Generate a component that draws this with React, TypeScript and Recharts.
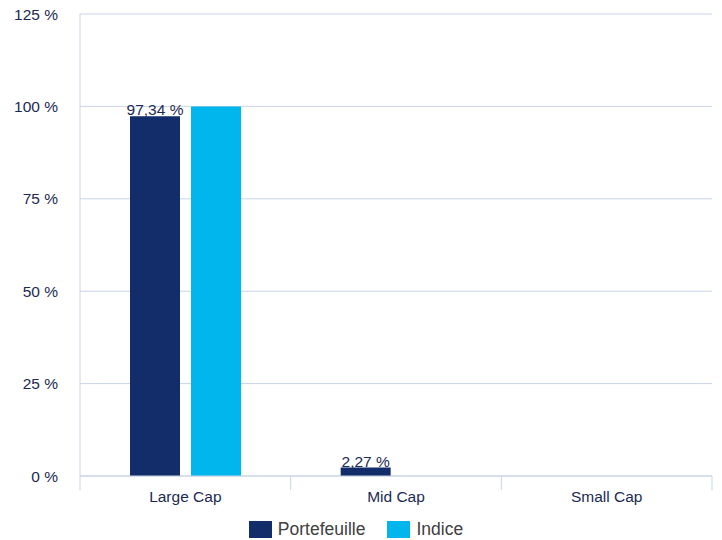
import React from 'react';
import { BarChart, Bar, XAxis, YAxis, CartesianGrid, Legend, LabelList } from 'recharts';

const categories = ['Large Cap', 'Mid Cap', 'Small Cap'];
const portefeuille = [97.34, 2.27, 0];
const indice = [100, 0, 0];
const yTicks = [0, 25, 50, 75, 100, 125];
const seriesOrder = ['Portefeuille', 'Indice'];

const data = categories.map((c, i) => ({ name: c, Portefeuille: portefeuille[i], Indice: indice[i] }));

const NAVY = '#122d69';
const CYAN = '#00b6ec';
const GRID = '#c9d4e6';
const TEXT = '#1b2a55';
const FONT = '"Liberation Sans", Arial, Helvetica, sans-serif';
const FS = 15.5;

const fmt = (v: number) => v.toFixed(2).replace('.', ',') + ' %';

const XTick = (props: any) => {
  const { x, y, payload, index, width, visibleTicksCount } = props;
  const n = visibleTicksCount || categories.length;
  const half = (width || 632) / n / 2;
  return (
    <g>
      <line x1={x - half} x2={x - half} y1={y} y2={y + 14} stroke={GRID} strokeWidth={1} />
      {index === n - 1 && <line x1={x + half} x2={x + half} y1={y} y2={y + 14} stroke={GRID} strokeWidth={1} />}
      <text x={x} y={y + 26} textAnchor="middle" fill={TEXT} fontSize={FS} fontFamily={FONT}>
        {payload.value}
      </text>
    </g>
  );
};

const BarLabel = (props: any) => {
  const { x, y, width, value } = props;
  if (!value) return null;
  return (
    <text x={x + width / 2} y={y - 1} textAnchor="middle" fill={TEXT} fontSize={FS} fontFamily={FONT}>
      {fmt(Number(value))}
    </text>
  );
};

const LegendContent = (props: any) => {
  const items = [...(props.payload || [])].sort(
    (a: any, b: any) => seriesOrder.indexOf(a.value) - seriesOrder.indexOf(b.value)
  );
  return (
    <div style={{ display: 'flex', justifyContent: 'center', alignItems: 'center', fontFamily: FONT, fontSize: 17.5, lineHeight: '19px', color: '#404040', paddingTop: 4 }}>
      {items.map((it: any, i: number) => (
        <div key={i} style={{ display: 'flex', alignItems: 'center', marginLeft: i ? 22 : 0 }}>
          <span style={{ display: 'inline-block', width: 23, height: 17, background: it.color, marginRight: 6 }} />
          <span>{it.value}</span>
        </div>
      ))}
    </div>
  );
};

export default function App() {
  return (
    <div style={{ position: 'absolute', left: 0, top: 0 }}>
      <BarChart
        width={722}
        height={540}
        data={data}
        margin={{ top: 14, right: 10, left: 0, bottom: 0 }}
        barGap={11}
        barCategoryGap={50}
      >
        <CartesianGrid vertical={false} stroke={GRID} strokeWidth={1} />
        <XAxis
          dataKey="name"
          height={40}
          tickLine={false}
          tickSize={0}
          tickMargin={0}
          axisLine={{ stroke: GRID }}
          tick={<XTick />}
          interval={0}
        />
        <YAxis
          width={80}
          domain={[0, 125]}
          ticks={yTicks}
          tickFormatter={(v: number) => `${v} %`}
          tickLine={false}
          axisLine={{ stroke: GRID }}
          tickSize={0}
          tickMargin={22}
          tick={{ fill: TEXT, fontSize: FS, fontFamily: FONT }}
          interval={0}
        />
        <Legend verticalAlign="bottom" height={24} content={<LegendContent />} />
        <Bar dataKey="Portefeuille" fill={NAVY} isAnimationActive={false}>
          <LabelList dataKey="Portefeuille" content={<BarLabel />} />
        </Bar>
        <Bar dataKey="Indice" fill={CYAN} isAnimationActive={false} />
      </BarChart>
    </div>
  );
}
